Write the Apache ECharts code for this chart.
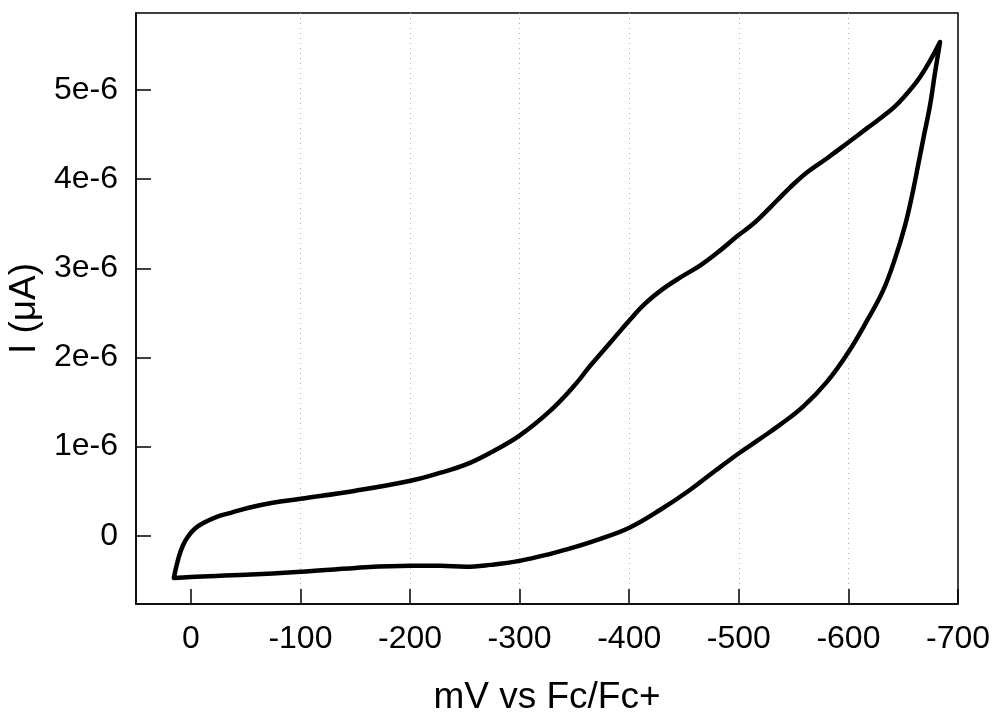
<!DOCTYPE html>
<html>
<head>
<meta charset="utf-8">
<title>Cyclic voltammogram</title>
<script src="https://cdn.jsdelivr.net/npm/echarts@6/dist/echarts.min.js"></script>
<style>
  html, body { margin: 0; padding: 0; background: #fff; }
  #chart { width: 994px; height: 714px; }
</style>
</head>
<body>
<div id="chart"></div>
<script>
// Potential (mV vs Fc/Fc+) and current (A) along the sweep:
// forward scan along the lower branch, return scan along the upper branch.
const potentialMv = [
  15.5, 0.0, -50.1, -100.3, -150.4, -200.5, -227.9, -250.7, -273.4, -299.9,
  -328.1, -350.9, -373.7, -400.1, -428.4, -455.7, -478.5, -499.5, -519.6, -537.8,
  -558.7, -580.6, -599.8, -617.1, -631.7, -642.6, -651.7, -658.1, -663.6, -669.0,
  -674.5, -679.1, -683.6,
  -665.4, -647.2, -635.3, -617.1, -598.9, -580.6, -562.4, -546.9, -535.1, -519.6,
  -510.4, -499.5, -483.1, -464.9, -446.7, -430.2, -414.7, -400.1, -382.8, -364.6,
  -350.0, -328.1, -299.9, -273.4, -250.7, -227.9, -200.5, -150.4, -100.3, -74.7,
  -52.9, -36.5, -23.7, -11.8, -3.6, 2.7, 7.3, 10.9, 13.7, 15.5
];
const currentA = [
  -0.472e-6, -0.461e-6, -0.438e-6, -0.404e-6, -0.360e-6, -0.337e-6, -0.337e-6, -0.348e-6, -0.326e-6, -0.281e-6,
  -0.202e-6, -0.124e-6, -0.034e-6, 0.090e-6, 0.292e-6, 0.517e-6, 0.730e-6, 0.921e-6, 1.090e-6, 1.247e-6,
  1.449e-6, 1.730e-6, 2.056e-6, 2.416e-6, 2.753e-6, 3.112e-6, 3.483e-6, 3.820e-6, 4.157e-6, 4.494e-6,
  4.831e-6, 5.202e-6, 5.539e-6,
  5.146e-6, 4.876e-6, 4.742e-6, 4.573e-6, 4.404e-6, 4.236e-6, 4.079e-6, 3.910e-6, 3.764e-6, 3.573e-6,
  3.472e-6, 3.371e-6, 3.202e-6, 3.034e-6, 2.899e-6, 2.764e-6, 2.607e-6, 2.416e-6, 2.169e-6, 1.910e-6,
  1.685e-6, 1.404e-6, 1.124e-6, 0.933e-6, 0.798e-6, 0.708e-6, 0.618e-6, 0.506e-6, 0.416e-6, 0.371e-6,
  0.315e-6, 0.258e-6, 0.213e-6, 0.146e-6, 0.079e-6, -0.011e-6, -0.112e-6, -0.236e-6, -0.371e-6, -0.472e-6
];

// Axis ticks and their labels
const xTickValues = [0, -100, -200, -300, -400, -500, -600, -700];
const yTickValues = [0, 1e-6, 2e-6, 3e-6, 4e-6, 5e-6];
const yTickLabels = ['0', '1e-6', '2e-6', '3e-6', '4e-6', '5e-6'];

const FONT = '"Liberation Sans", Arial, Helvetica, sans-serif';

const sweep = potentialMv.map((v, i) => [v, currentA[i]]);

const chart = echarts.init(document.getElementById('chart'), null, { renderer: 'canvas' });

chart.setOption({
  backgroundColor: '#ffffff',
  animation: false,
  grid: {
    left: 136, right: 36, top: 13, bottom: 110,
    outerBoundsMode: 'none',
    containLabel: false,
    show: true,
    borderColor: '#000',
    borderWidth: 1.5,
    backgroundColor: 'transparent'
  },
  xAxis: {
    type: 'value',
    min: -700,
    max: 50,
    interval: 100,
    inverse: true,
    name: 'mV vs Fc/Fc+',
    nameLocation: 'middle',
    nameGap: 75,
    nameTextStyle: { fontFamily: FONT, fontSize: 37, color: '#000' },
    axisLine: { show: true, onZero: false, lineStyle: { color: '#000', width: 1.5 } },
    axisTick: {
      show: true, inside: true, length: 15,
      customValues: xTickValues,
      lineStyle: { color: '#000', width: 1.5 }
    },
    axisLabel: {
      customValues: xTickValues,
      margin: 19,
      fontFamily: FONT, fontSize: 32, color: '#000'
    },
    splitLine: {
      show: true,
      showMinLine: false,
      showMaxLine: false,
      lineStyle: { color: '#b4b4b4', width: 1, type: [1, 4] }
    }
  },
  yAxis: {
    type: 'value',
    min: -0.765e-6,
    max: 5.865e-6,
    name: 'I (μA)',
    nameLocation: 'middle',
    nameGap: 81,
    nameTextStyle: { fontFamily: FONT, fontSize: 37, color: '#000' },
    axisLine: { show: true, onZero: false, lineStyle: { color: '#000', width: 1.5 } },
    axisTick: {
      show: true, inside: true, length: 15,
      customValues: yTickValues,
      lineStyle: { color: '#000', width: 1.5 }
    },
    axisLabel: {
      customValues: yTickValues,
      margin: 18,
      fontFamily: FONT, fontSize: 32, color: '#000',
      formatter: function (v) {
        const k = Math.round(v * 1e6);
        return yTickLabels[k] !== undefined ? yTickLabels[k] : '';
      }
    },
    splitLine: { show: false }
  },
  series: [{
    type: 'line',
    data: sweep,
    showSymbol: false,
    smooth: 0.4,
    lineStyle: { color: '#000', width: 4.5, cap: 'round', join: 'round' },
    clip: false
  }]
});
</script>
</body>
</html>
